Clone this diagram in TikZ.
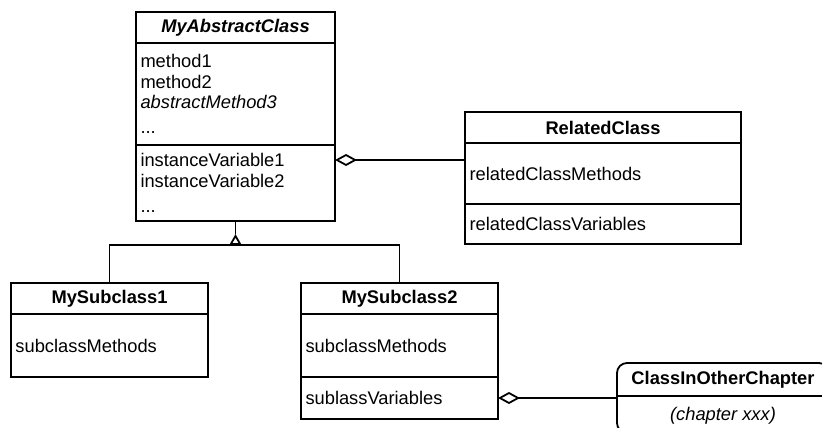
\documentclass[tikz,border=0pt]{standalone}
\usepackage{fontspec}
\setmainfont{Liberation Sans}
\usepackage{tikz}
\usetikzlibrary{arrows.meta,positioning}
\newcommand{\umlfont}{\fontsize{18.3pt}{20.3pt}\selectfont}
\tikzstyle{classtitle} = [rectangle, minimum height = 31pt, inner xsep = 4.5pt, inner ysep = 0pt, outer sep = 0pt, text centered, draw = black, font = \umlfont\bfseries]
\tikzstyle{classpart} = [rectangle, inner xsep = 4.5pt, inner ysep = 0pt, outer sep = 0pt, align = left, draw = black, font = \umlfont]
\tikzstyle{aggregation} = [{Diamond[open, length = 22pt, width = 12pt]}-]
\tikzstyle{inherit} = [-{Triangle[open, length = 11pt, width = 12pt]}]
\begin{document}
\begin{tikzpicture}[x = 1pt, y = -1pt, line width = 1.8pt]
\useasboundingbox (0,0) rectangle (822,428);

\node(AbsTitle) [classtitle, text width = 190pt, anchor = north west] at (136,12) {\textit{MyAbstractClass}};
\node(AbsMethods) [classpart, text width = 190pt, minimum height = 102pt, below = 0pt of AbsTitle] {method1\\method2\\\textit{abstractMethod3}\\[4.4pt]...};
\node(AbsVariables) [classpart, text width = 190pt, minimum height = 76pt, below = 0pt of AbsMethods] {instanceVariable1\\instanceVariable2\\[5pt]...};

\node(RelTitle) [classtitle, text width = 267pt, anchor = north west] at (465,112) {RelatedClass};
\node(RelMethods) [classpart, text width = 267pt, minimum height = 61pt, below = 0pt of RelTitle] {relatedClassMethods};
\node(RelVariables) [classpart, text width = 267pt, minimum height = 40pt, below = 0pt of RelMethods] {relatedClassVariables};

\node(MySub1Title) [classtitle, text width = 188pt, anchor = north west] at (11,283) {MySubclass1};
\node(MySub1Methods) [classpart, text width = 188pt, minimum height = 63pt, below = 0pt of MySub1Title] {subclassMethods};

\node(MySub2Title) [classtitle, text width = 188pt, anchor = north west] at (301,283) {MySubclass2};
\node(MySub2Methods) [classpart, text width = 188pt, minimum height = 63pt, below = 0pt of MySub2Title] {subclassMethods};
\node(MySub2Variables) [classpart, text width = 188pt, minimum height = 42pt, below = 0pt of MySub2Methods] {sublassVariables};

\node(Other) [rectangle, rounded corners = 10pt, draw = black, minimum width = 212pt, minimum height = 70pt, outer sep = 0pt, anchor = north west] at (617,363) {};
\node(OtherTitle) [minimum height = 31pt, inner sep = 0pt, font = \umlfont\bfseries, below = 0pt of Other.north] {ClassInOtherChapter};
\node(OtherChapter) [minimum height = 39pt, inner sep = 0pt, font = \umlfont\itshape, below = 0pt of OtherTitle] {(chapter xxx)};
\draw (Other.west |- OtherTitle.south) -- (Other.east |- OtherTitle.south);

\coordinate (Fork) at ([yshift = -24pt]AbsVariables.south);
\coordinate (TriTip) at ([yshift = -13pt]AbsVariables.south);
\draw [inherit] (Fork) -- (TriTip);
\draw (TriTip) -- (AbsVariables.south);
\draw (MySub1Title.north) |- (Fork) -| (MySub2Title.north);

\coordinate (AggAbs) at ([yshift = -15pt]AbsVariables.north east);
\draw [aggregation] (AggAbs) -- (RelMethods.west |- AggAbs);
\draw [aggregation] (MySub2Variables.east) -- (Other.west);
\end{tikzpicture}
\end{document}
